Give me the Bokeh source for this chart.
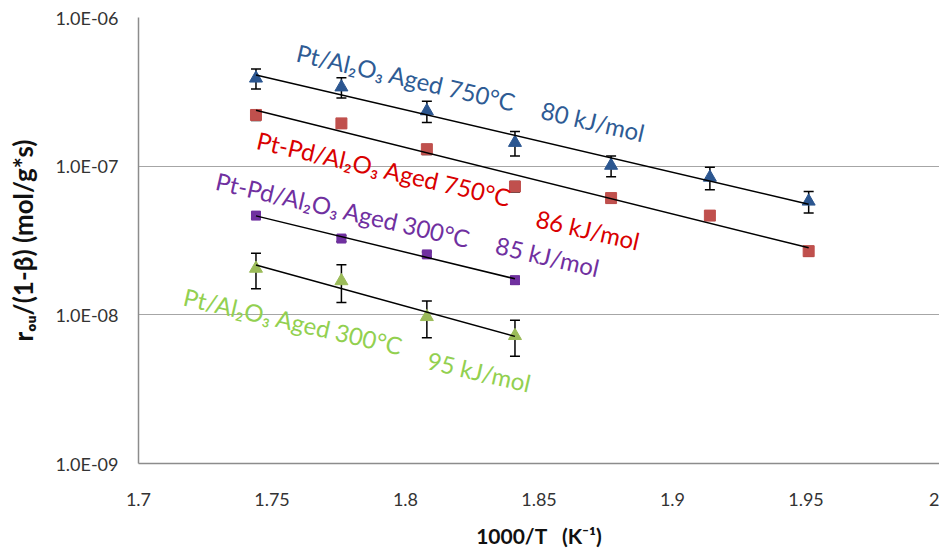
import numpy as np
from bokeh.plotting import figure
from bokeh.models import (ColumnDataSource, Whisker, TeeHead, FixedTicker, Range1d,
                          Label, CustomJSTickFormatter)
from bokeh.embed import file_html
from bokeh.resources import INLINE

# ---------------- data ----------------
inv_T_7 = [1.744, 1.776, 1.808, 1.841, 1.877, 1.914, 1.951]
inv_T_4 = [1.744, 1.776, 1.808, 1.841]

pt750_rate = [3.9e-7, 3.4e-7, 2.35e-7, 1.44e-7, 1.01e-7, 8.4e-8, 5.8e-8]
pt750_err = [6.0e-8, 5.3e-8, 3.8e-8, 2.7e-8, 1.6e-8, 1.45e-8, 9.6e-9]

ptpd750_rate = [2.21e-7, 1.94e-7, 1.30e-7, 7.3e-8, 6.1e-8, 4.65e-8, 2.68e-8]
ptpd750_err = [1.8e-8, 1.4e-8, 1.0e-8, 6.0e-9, 4.5e-9, 3.0e-9, 2.0e-9]

ptpd300_rate = [4.65e-8, 3.26e-8, 2.55e-8, 1.71e-8]
ptpd300_err = [2.0e-9, 1.5e-9, 1.0e-9, 1.0e-9]

pt300_rate = [2.05e-8, 1.69e-8, 9.7e-9, 7.23e-9]
pt300_err = [5.5e-9, 4.8e-9, 2.7e-9, 1.97e-9]

x_ticks = [1.7, 1.75, 1.8, 1.85, 1.9, 1.95, 2.0]
x_tick_labels = ["1.7", "1.75", "1.8", "1.85", "1.9", "1.95", "2"]
y_ticks = [1e-9, 1e-8, 1e-7, 1e-6]
y_tick_labels = ["1.0E-09", "1.0E-08", "1.0E-07", "1.0E-06"]

x_title = "1000/T\u00a0\u00a0\u00a0(K\u207b\u00b9)"
y_title = "r\u2092\u1d64/(1-\u03b2) (mol/g*s)"

label_texts = ["Pt/Al\u2082O\u2083 Aged 750\u00b0C", "80 kJ/mol",
               "Pt-Pd/Al\u2082O\u2083 Aged 750\u00b0C", "86 kJ/mol",
               "Pt-Pd/Al\u2082O\u2083 Aged 300\u00b0C", "85 kJ/mol",
               "Pt/Al\u2082O\u2083 Aged 300\u00b0C", "95 kJ/mol"]
label_x = [1.8003, 1.8702, 1.7920, 1.8683, 1.7767, 1.8532, 1.7580, 1.8276]
label_y = [3.965e-7, 2.01e-7, 9.6e-8, 3.75e-8, 5.1e-8, 2.48e-8, 9.07e-9, 4.16e-9]

# ---------------- styles ----------------
BLUE_M, BLUE_T = "#2B5690", "#2E5B94"
RED_M, RED_T = "#C0504D", "#D90000"
PUR_M, PUR_T = "#7030A0", "#7030A0"
GRN_M, GRN_T = "#9BBB59", "#92D050"
label_colors = [BLUE_T, BLUE_T, RED_T, RED_T, PUR_T, PUR_T, GRN_T, GRN_T]

FONT = "Lato"
W, H = 939, 550
LEFT, TOP, BOTTOM = 138, 17, 85

p = figure(width=W, height=H, y_axis_type="log",
           x_range=Range1d(1.7, 2.0), y_range=Range1d(1e-9, 1e-6),
           output_backend="svg", toolbar_location=None,
           min_border_left=LEFT, min_border_right=0,
           min_border_top=TOP, min_border_bottom=BOTTOM)
p.outline_line_color = None
p.outline_line_alpha = 0
p.background_fill_color = "white"
p.border_fill_color = "white"

fmt_code = """
for (let i = 0; i < tk.length; i++) {
  if (Math.abs(tk[i] - tick) <= 1e-6 * Math.abs(tk[i])) { return lb[i]; }
}
return "";
"""
p.xaxis.ticker = FixedTicker(ticks=x_ticks)
p.xaxis.formatter = CustomJSTickFormatter(args=dict(tk=x_ticks, lb=x_tick_labels), code=fmt_code)
p.yaxis.ticker = FixedTicker(ticks=y_ticks)
p.yaxis.formatter = CustomJSTickFormatter(args=dict(tk=y_ticks, lb=y_tick_labels), code=fmt_code)

p.xgrid.visible = False
p.ygrid.ticker = FixedTicker(ticks=y_ticks)
p.ygrid.grid_line_color = "#A6A6A6"
p.ygrid.grid_line_width = 1

for ax in (p.xaxis, p.yaxis):
    ax.axis_line_color = "#8C8C8C"
    ax.axis_line_width = 1.5
    ax.major_tick_line_color = None
    ax.minor_tick_line_color = None
    ax.major_tick_out = 0
    ax.major_tick_in = 0
    ax.minor_tick_out = 0
    ax.minor_tick_in = 0
    ax.major_label_text_font = FONT
    ax.major_label_text_font_size = "18px"
    ax.major_label_text_color = "#333333"
    ax.axis_label_text_font = FONT
    ax.axis_label_text_font_style = "bold"
    ax.axis_label_text_color = "#111111"

p.xaxis.major_label_standoff = 29
p.yaxis.major_label_standoff = 20
p.xaxis.axis_label = x_title
p.xaxis.axis_label_text_font_size = "21px"
p.xaxis.axis_label_standoff = 14
p.yaxis.axis_label = y_title
p.yaxis.axis_label_text_font_size = "26px"
p.yaxis.axis_label_standoff = 13

series = [
    (inv_T_7, pt750_rate, pt750_err, "triangle", BLUE_M, 13),
    (inv_T_7, ptpd750_rate, ptpd750_err, "square", RED_M, 11),
    (inv_T_4, ptpd300_rate, ptpd300_err, "square", PUR_M, 9),
    (inv_T_4, pt300_rate, pt300_err, "triangle", GRN_M, 13),
]

for xs, ys, es, marker, color, size in series:
    xa = np.array(xs)
    ya = np.array(ys)
    ea = np.array(es)
    src = ColumnDataSource(dict(x=xa, y=ya, upper=ya + ea, lower=ya - ea))
    wh = Whisker(source=src, base="x", upper="upper", lower="lower",
                 line_color="black", line_width=1.5,
                 upper_head=TeeHead(size=10, line_color="black", line_width=1.5),
                 lower_head=TeeHead(size=10, line_color="black", line_width=1.5),
                 level="underlay")
    p.add_layout(wh)
    p.scatter("x", "y", source=src, marker=marker, size=size,
              fill_color=color, line_color=color)

for xs, ys, es, marker, color, size in series:
    xa = np.array(xs)
    slope, icpt = np.polyfit(xa, np.log10(np.array(ys)), 1)
    fx = np.array([xa[0], xa[-1]])
    fy = 10 ** (icpt + slope * fx)
    p.line(fx, fy, line_color="black", line_width=1.5)

for t, lx, ly, c in zip(label_texts, label_x, label_y, label_colors):
    p.add_layout(Label(x=lx, y=ly, text=t, angle=-13, angle_units="deg",
                       text_align="center", text_baseline="middle",
                       text_font=FONT, text_font_size="24px", text_color=c))

open("out.html", "w").write(file_html(p, INLINE))
